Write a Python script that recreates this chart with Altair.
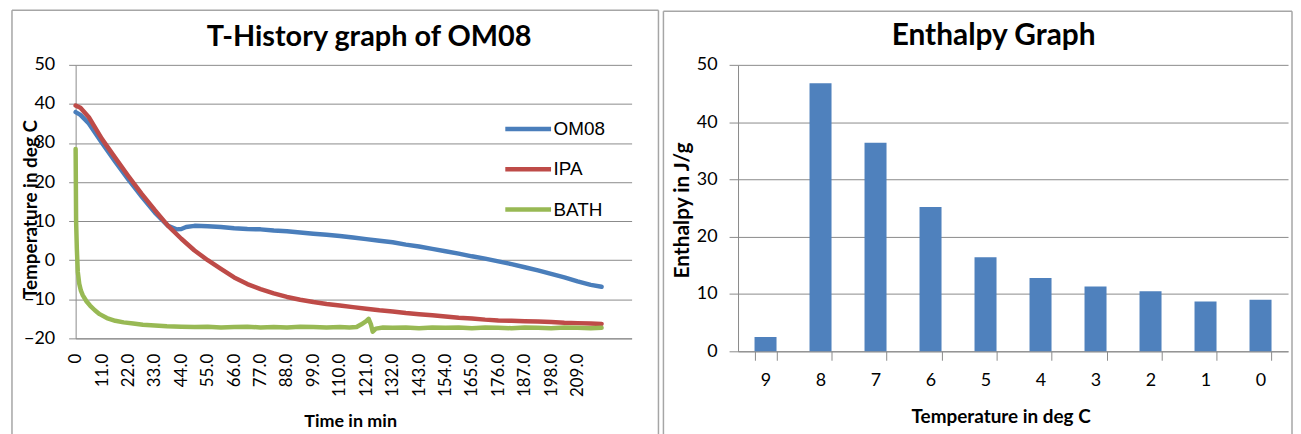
import altair as alt
import pandas as pd

# ---------------- data: T-History graph ----------------
series_names = ["OM08", "IPA", "BATH"]
series_colors = ["#4A7EBB", "#BE4B48", "#98B954"]

om08_t = [0, 2, 5.5, 11, 16.5, 22, 27.5, 33, 38.5, 42, 44, 46, 49.5, 55, 60.5, 66, 71.5, 77,
          82.5, 88, 93.5, 99, 104.5, 110, 115.5, 121, 126.5, 132, 137.5, 143, 148.5, 154,
          159.5, 165, 170.5, 176, 181.5, 187, 192.5, 198, 203.5, 209, 214.5, 219]
om08_v = [37.9, 37.2, 35.0, 30.0, 25.2, 20.6, 16.3, 12.2, 8.8, 7.9, 8.0, 8.5, 8.8, 8.7, 8.5,
          8.2, 8.0, 7.9, 7.6, 7.4, 7.1, 6.8, 6.5, 6.2, 5.8, 5.4, 5.0, 4.6, 4.0, 3.5, 2.9, 2.3,
          1.7, 1.0, 0.4, -0.3, -1.0, -1.8, -2.6, -3.5, -4.4, -5.4, -6.3, -6.8]

ipa_t = [0, 2, 5.5, 11, 16.5, 22, 27.5, 33, 38.5, 44, 49.5, 55, 60.5, 66, 71.5, 77, 82.5, 88,
         93.5, 99, 104.5, 110, 115.5, 121, 126.5, 132, 137.5, 143, 148.5, 154, 159.5, 165,
         170.5, 176, 181.5, 187, 192.5, 198, 203.5, 209, 214.5, 219]
ipa_v = [39.6, 39.0, 36.6, 31.0, 26.2, 21.5, 17.0, 12.8, 8.8, 5.5, 2.5, 0.0, -2.2, -4.4, -6.1,
         -7.4, -8.5, -9.4, -10.1, -10.7, -11.2, -11.6, -12.0, -12.4, -12.8, -13.1, -13.5,
         -13.8, -14.1, -14.4, -14.7, -14.9, -15.2, -15.4, -15.5, -15.6, -15.7, -15.8, -16.0,
         -16.1, -16.2, -16.3]

bath_t = [0, 0.2, 0.5, 0.9, 1.5, 2.2, 3, 4.5, 6, 8, 10, 13, 16.5, 20, 24, 28, 33, 38, 44, 49.5,
          55, 60.5, 66, 71.5, 77, 82.5, 88, 93.5, 99, 104.5, 110, 114, 117, 119, 121, 122, 123,
          123.7, 125, 128, 132, 137.5, 143, 148.5, 154, 159.5, 165, 170.5, 176, 181.5, 187,
          192.5, 198, 203.5, 209, 214.5, 219]
bath_v = [28.5, 10.0, 3.0, -3.0, -6.0, -7.8, -9.0, -10.5, -11.6, -12.8, -13.8, -14.8, -15.5,
          -15.9, -16.2, -16.5, -16.7, -16.9, -17.0, -17.1, -17.0, -17.2, -17.1, -17.0, -17.2,
          -17.1, -17.2, -17.0, -17.1, -17.2, -17.1, -17.2, -17.1, -16.4, -15.6, -15.0, -16.5,
          -18.3, -17.5, -17.2, -17.3, -17.2, -17.4, -17.2, -17.3, -17.2, -17.4, -17.2, -17.3,
          -17.4, -17.2, -17.3, -17.4, -17.2, -17.3, -17.4, -17.3]

time_ticks = [0, 11, 22, 33, 44, 55, 66, 77, 88, 99, 110, 121, 132, 143, 154, 165, 176, 187,
              198, 209]
temp_ticks = [-20, -10, 0, 10, 20, 30, 40, 50]

# ---------------- data: Enthalpy graph ----------------
bar_labels = ["9", "8", "7", "6", "5", "4", "3", "2", "1", "0"]
bar_values = [2.5, 46.8, 36.4, 25.2, 16.4, 12.8, 11.3, 10.5, 8.7, 9.0]
enth_ticks = [0, 10, 20, 30, 40, 50]

left_title = "T-History graph of OM08"
right_title = "Enthalpy Graph"

# ---------------- build tables ----------------
lines_df = pd.concat([
    pd.DataFrame({"t": om08_t, "temp": om08_v, "series": "OM08"}),
    pd.DataFrame({"t": ipa_t, "temp": ipa_v, "series": "IPA"}),
    pd.DataFrame({"t": bath_t, "temp": bath_v, "series": "BATH"}),
], ignore_index=True)
bars_df = pd.DataFrame({"temp": bar_labels, "enthalpy": bar_values})

GRID = "#8a8a8a"
FRAME = "#a6a6a6"
FONT = "Lato"

LW, LH = 559, 275   # left plot area
RW, RH = 553, 288   # right plot area

x_left = alt.X(
    "t:Q",
    scale=alt.Scale(domain=[0, 231.5], nice=False, zero=False),
    axis=alt.Axis(
        values=time_ticks,
        labelExpr="datum.value == 0 ? '0' : format(datum.value, '.1f')",
        labelAngle=270, labelFont=FONT, labelFontSize=17, labelColor="#000",
        labelPadding=15, ticks=False, grid=False, labelOverlap=False, labelFlush=False,
        domainColor=GRID, domainWidth=1,
        title="Time in min", titleFont=FONT, titleFontSize=18, titleFontWeight="bold",
        titleColor="#000", titleX=276, titleY=84, titleBaseline="middle",
        titleAlign="center",
    ),
)
y_left = alt.Y(
    "temp:Q",
    scale=alt.Scale(domain=[-20, 50], nice=False, zero=False),
    axis=alt.Axis(
        values=temp_ticks, tickSize=7, tickColor=GRID, gridColor=GRID, gridWidth=1,
        domainColor=GRID, labelPadding=14, labelFont=FONT, labelFontSize=18,
        labelColor="#000",
        title="Temperature in deg C", titleFont=FONT, titleFontSize=19,
        titleFontWeight="bold", titleColor="#000", titleX=-45, titleY=145,
        titleAngle=270, titleBaseline="middle", titleAlign="center",
    ),
)
color_enc = alt.Color(
    "series:N",
    scale=alt.Scale(domain=series_names, range=series_colors),
    legend=alt.Legend(
        title=None, orient="none", legendX=445, legendY=54.5,
        symbolType="M-3,0H3", symbolSize=235, symbolStrokeWidth=4.5,
        labelFont="Liberation Sans", labelFontSize=19, labelColor="#000",
        labelOffset=15.5, rowPadding=20.5, padding=0,
    ),
)

line_layers = [
    alt.Chart(lines_df).transform_filter(alt.datum.series == s)
    .mark_line(strokeWidth=4.5, strokeJoin="round", strokeCap="round")
    .encode(x=x_left, y=y_left, color=color_enc)
    for s in series_names
]

one = pd.DataFrame({"k": [0]})


def frame(x1, x2, ytop, ybot):
    base = alt.Chart(one).mark_rule(color=FRAME, strokeWidth=1.5)
    return [
        base.encode(x=alt.value(x1), y=alt.value(ytop), y2=alt.value(ybot)),
        base.encode(x=alt.value(x2), y=alt.value(ytop), y2=alt.value(ybot)),
        base.encode(x=alt.value(x1), x2=alt.value(x2), y=alt.value(ytop)),
    ]


left_title_mark = alt.Chart(pd.DataFrame({"title": [left_title]})).mark_text(
    font=FONT, fontSize=29, fontWeight="bold", color="#000", align="center",
    baseline="middle",
).encode(x=alt.value(295), y=alt.value(-28), text="title:N")

left = alt.layer(
    *frame(-64, 586, -55, 372), left_title_mark, *line_layers
).properties(width=LW, height=LH)

# ---------------- right chart ----------------
bars = alt.Chart(bars_df).mark_bar(color="#4F81BD").encode(
    x=alt.X(
        "temp:O", sort=bar_labels,
        scale=alt.Scale(paddingInner=0.6, paddingOuter=0.3),
        axis=alt.Axis(
            tickBand="extent", tickSize=9, tickColor=GRID, domainColor=GRID,
            labelAngle=0, labelPadding=11, labelFont=FONT, labelFontSize=18,
            labelColor="#000", grid=False,
            title="Temperature in deg C", titleFont=FONT, titleFontSize=19,
            titleFontWeight="bold", titleColor="#000", titleX=264, titleY=66,
            titleBaseline="middle", titleAlign="center",
        ),
    ),
    y=alt.Y(
        "enthalpy:Q",
        scale=alt.Scale(domain=[0, 50], nice=False),
        axis=alt.Axis(
            values=enth_ticks, tickSize=9, tickColor=GRID, gridColor=GRID,
            domainColor=GRID, labelPadding=12, labelFont=FONT, labelFontSize=18,
            labelColor="#000",
            title="Enthalpy in J/g", titleFont=FONT, titleFontSize=21,
            titleFontWeight="bold", titleColor="#000", titleX=-56, titleY=RH / 2 + 2,
            titleAngle=270, titleBaseline="middle", titleAlign="center",
        ),
    ),
)

right_title_mark = alt.Chart(pd.DataFrame({"title": [right_title]})).mark_text(
    font=FONT, fontSize=30, fontWeight="bold", color="#000", align="center",
    baseline="middle",
).encode(x=alt.value(257), y=alt.value(-29), text="title:N")

right = alt.layer(
    *frame(-75, 557, -54, 373), right_title_mark, bars
).properties(width=RW, height=RH)

chart = alt.hconcat(left, right, spacing=3).properties(
    padding={"left": 3, "top": 0, "right": 0, "bottom": 0},
    background="white",
).configure_view(stroke=None)

chart.save("out.html", embed_options={"renderer": "svg", "actions": False})
